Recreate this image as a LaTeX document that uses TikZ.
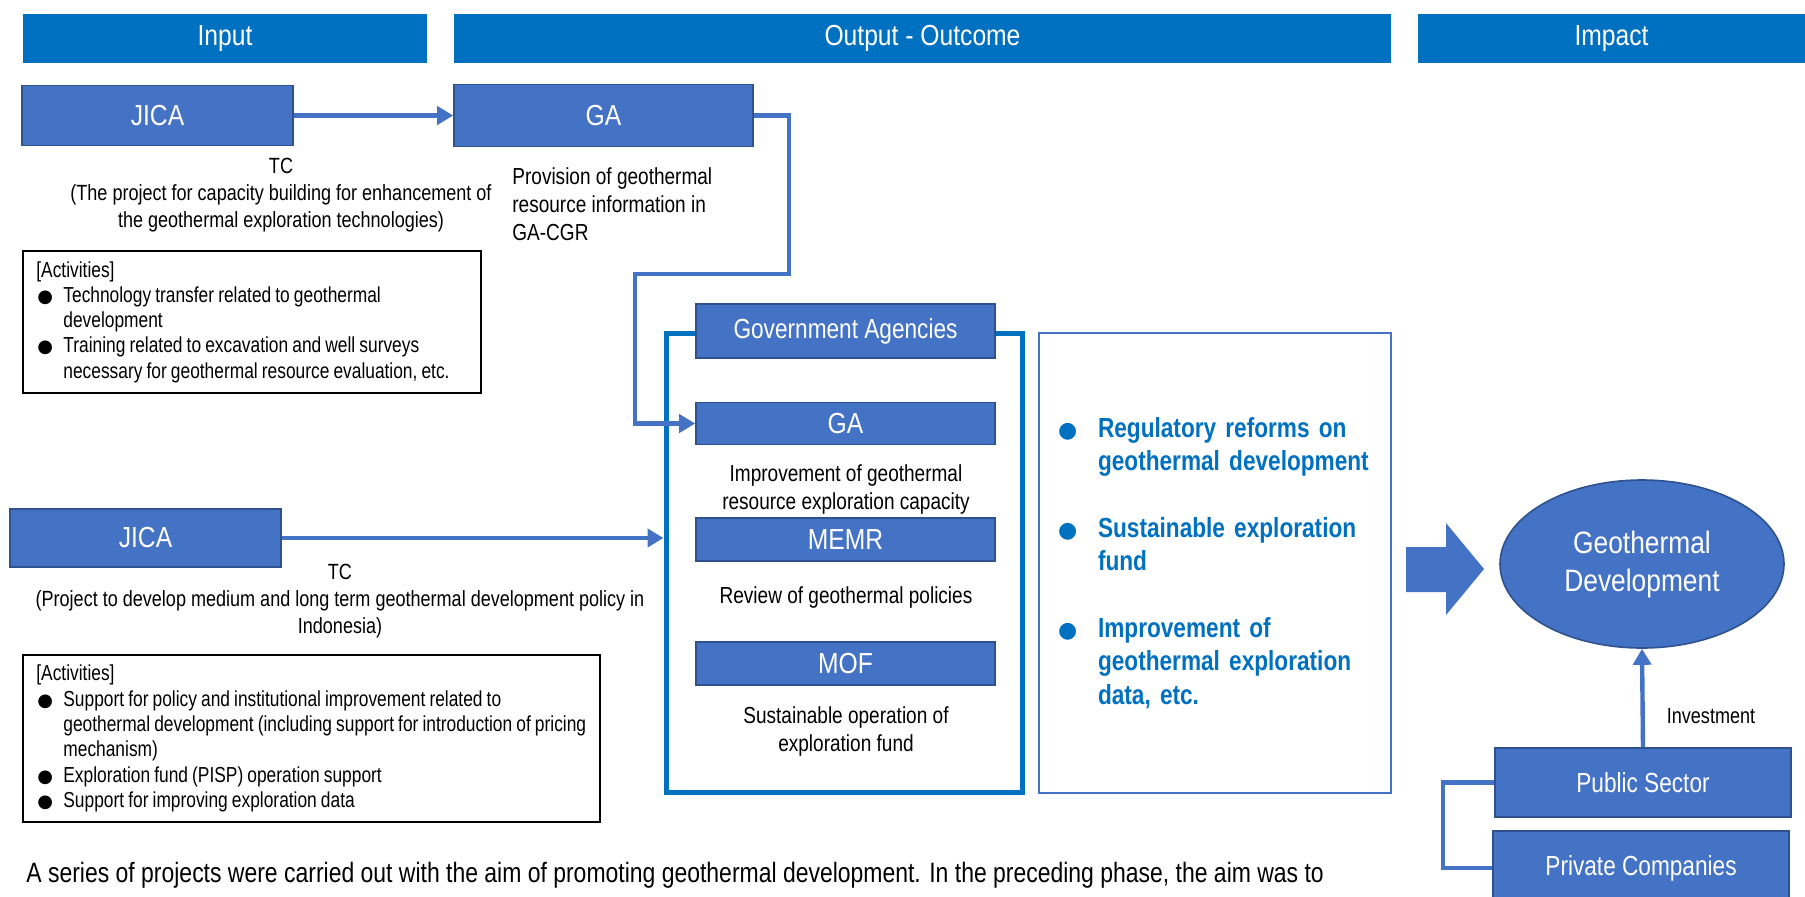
\documentclass[tikz,border=0pt]{standalone}
\usepackage{fontspec}
\setmainfont[FakeStretch=0.82]{Liberation Sans}
\newfontfamily\boxfont[FakeStretch=0.85]{Liberation Sans}
\newfontfamily\actfont[FakeStretch=0.8,WordSpace=0.85]{Liberation Sans}
\newfontfamily\symfont{DejaVu Sans}
\usetikzlibrary{arrows.meta,shapes.geometric}

\definecolor{headblue}{HTML}{0070C0}
\definecolor{boxblue}{HTML}{4472C4}
\definecolor{boxedge}{HTML}{2F528F}

\newcommand{\blkdot}{\makebox[13.5pt][l]{\hspace{0.5pt}{\symfont\fontsize{9}{9}\selectfont ●}}}
\newcommand{\bluedot}{\makebox[20pt][l]{{\symfont\fontsize{11}{11}\selectfont ●}}}
\newcommand{\hang}[1]{\hspace*{#1}}

\begin{document}
\begin{tikzpicture}[x=0.5pt,y=-0.5pt,
  header/.style={fill=headblue,text=white,font=\boxfont\fontsize{14.5}{16}\selectfont,inner sep=0pt,minimum height=24.5pt},
  agent/.style={fill=boxblue,draw=boxedge,line width=0.8pt,text=white,font=\boxfont\fontsize{14.5}{16}\selectfont,inner sep=0pt},
  agentsm/.style={agent,font=\fontsize{13.8}{16}\selectfont},
  note/.style={align=center,font=\fontsize{11}{13.6}\selectfont,inner sep=0pt,text=black},
  outnote/.style={note,font=\fontsize{11.6}{14}\selectfont},
  actbox/.style={draw=black,line width=1pt,inner sep=0pt},
  acttext/.style={align=left,inner sep=0pt,font=\actfont\fontsize{10.85}{12.65}\selectfont},
  link/.style={boxblue,line width=2.2pt},
  arr/.style={link,-{Triangle[length=8pt,width=9pt]}}]
\useasboundingbox (0,0) rectangle (1805,896);
\clip (0,0) rectangle (1805,896);

\node[header,minimum width=202pt] (hin) at (225,38.5) {Input};
\node[header,minimum width=468.5pt] (hout) at (922.5,38.5) {Output - Outcome};
\node[header,minimum width=193.5pt] (himp) at (1611.5,38.5) {Impact};

% input side
\node[agent,minimum width=135.5pt,minimum height=30pt] (jica1) at (157.5,115.5) {JICA};
\node[agent,minimum width=149.5pt,minimum height=31pt] (ga1) at (603.5,115.5) {GA};
\draw[arr] (jica1.east) -- (ga1.west);
\node[note] (tc1) at (281,195) {TC\\(The project for capacity building for enhancement of\\the geothermal exploration technologies)};
\node[outnote,align=left,anchor=west] (prov) at (512,204) {Provision of geothermal\\resource information in\\GA-CGR};
\node[actbox,minimum width=229pt,minimum height=71pt] (act1) at (252,322) {};
\node[acttext,anchor=west] (act1txt) at ([xshift=7pt]act1.west) {[Activities]\\
\blkdot Technology transfer related to geothermal\\
\hang{13.5pt}development\\
\blkdot Training related to excavation and well surveys\\
\hang{13.5pt}necessary for geothermal resource evaluation, etc.};

\node[agent,minimum width=135.5pt,minimum height=29pt] (jica2) at (145.5,538) {JICA};
\node[note] (tc2) at (340,601) {TC\\(Project to develop medium and long term geothermal development policy in\\Indonesia)};
\node[actbox,minimum width=288.5pt,minimum height=83.5pt] (act2) at (311.5,738.5) {};
\node[acttext,anchor=west] (act2txt) at ([xshift=7pt]act2.west) {[Activities]\\
\blkdot Support for policy and institutional improvement related to\\
\hang{13.5pt}geothermal development (including support for introduction of pricing\\
\hang{13.5pt}mechanism)\\
\blkdot Exploration fund (PISP) operation support\\
\blkdot Support for improving exploration data};

% government agencies
\node[draw=headblue,line width=2.5pt,minimum width=178pt,minimum height=229.5pt,inner sep=0pt] (govframe) at (844,562.5) {};
\node[agentsm,minimum width=149.5pt,minimum height=27pt] (gov) at (845.5,331) {Government Agencies};
\node[agent,minimum width=149.5pt,minimum height=21pt] (ga2) at (845.5,423.5) {GA};
\node[outnote] (imp) at (846,489) {Improvement of geothermal\\resource exploration capacity};
\node[agent,minimum width=149.5pt,minimum height=21.5pt] (memr) at (845.5,539.5) {MEMR};
\node[outnote] (rev) at (846,597) {Review of geothermal policies};
\node[agent,minimum width=149.5pt,minimum height=21.5pt] (mof) at (845.5,663.5) {MOF};
\node[outnote] (sus) at (846,731) {Sustainable operation of\\exploration fund};

\coordinate (bend) at (635,274);
\draw[arr] (ga1.east) -- ++(35,0) |- (bend) |- (ga2.west);
\draw[arr] (jica2.east) -- (govframe.west |- jica2.east);

% outcomes
\node[draw=boxblue,line width=0.8pt,minimum width=176pt,minimum height=230pt,inner xsep=9.5pt,text width=157pt,align=left,
  text=headblue,font=\bfseries\fontsize{13.8}{16.75}\selectfont] (goals) at (1215,563) {\bluedot Regulatory reforms on\\
\hang{20pt}geothermal development\\[16.5pt]
\bluedot Sustainable exploration\\
\hang{20pt}fund\\[16.5pt]
\bluedot Improvement of\\
\hang{20pt}geothermal exploration\\
\hang{20pt}data, etc.};

% impact
\fill[boxblue] (1406,547) -- (1446,547) -- (1446,523) -- (1484,569) -- (1446,615) -- (1446,592) -- (1406,592) -- cycle;
\node[ellipse,fill=boxblue,draw=boxedge,line width=0.8pt,minimum width=142pt,minimum height=84pt,text=white,align=center,
  font=\boxfont\fontsize{15.5}{19}\selectfont] (geo) at (1642,564) {Geothermal\\Development};
\node[agentsm,minimum width=148pt,minimum height=34.5pt] (pub) at (1643,782.5) {Public Sector};
\node[agentsm,minimum width=148pt,minimum height=37pt] (priv) at (1641,868) {Private Companies};
\draw[arr] (pub.north) -- node[right=11pt,pos=0.32,note] {Investment} (geo.south);
\draw[link] (pub.west) -- ++(-51,0) |- (priv.west);

\node[anchor=west,inner sep=0pt,font=\fontsize{14}{16}\selectfont] (summary) at (26,875) {A series of projects were carried out with the aim of promoting geothermal development. In the preceding phase, the aim was to};
\end{tikzpicture}
\end{document}
